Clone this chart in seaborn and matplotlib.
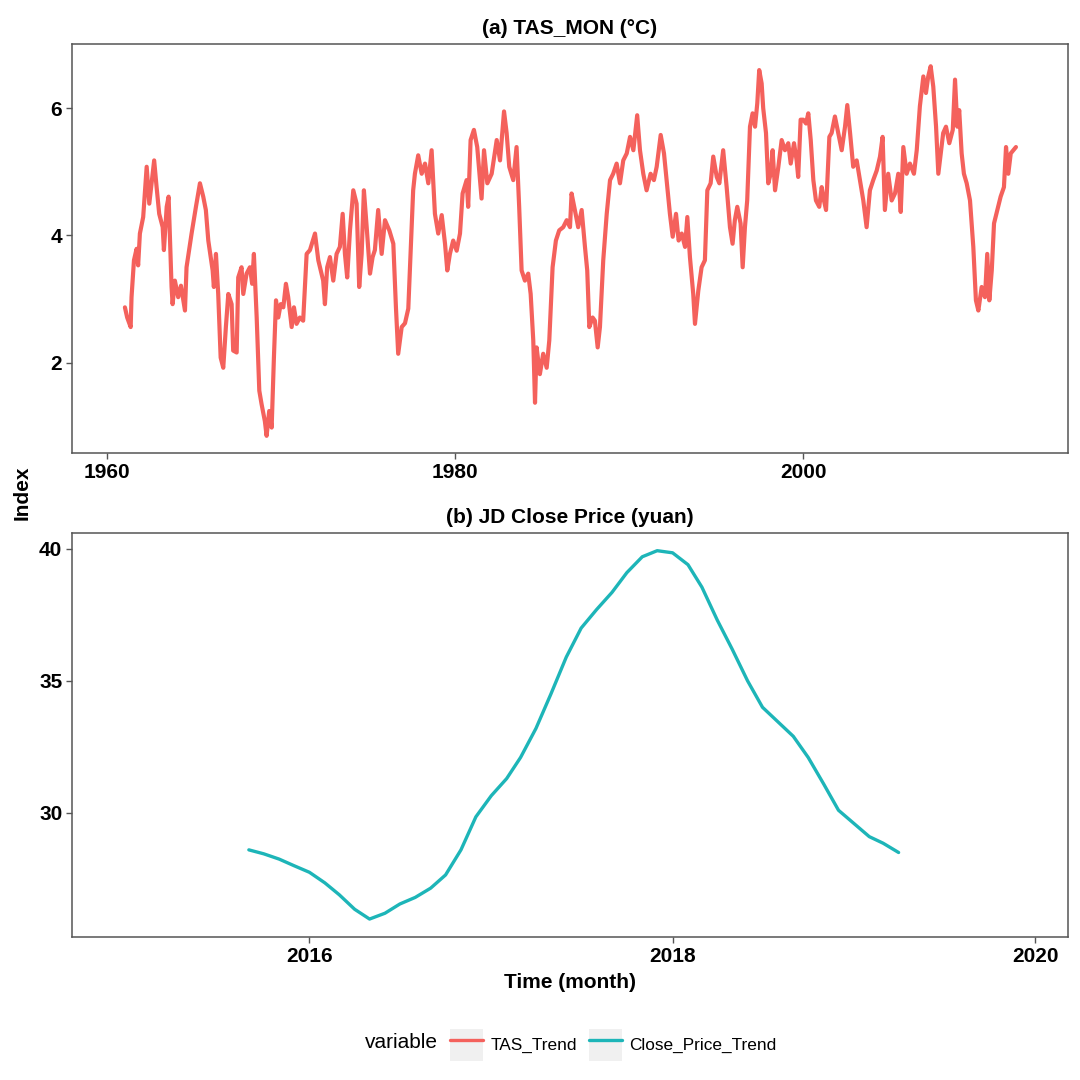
import numpy as np
import pandas as pd
import matplotlib
matplotlib.use('Agg')
import matplotlib.pyplot as plt
import matplotlib.dates as mdates
from matplotlib.lines import Line2D
from matplotlib.patches import Rectangle
from matplotlib.legend_handler import HandlerLine2D
import seaborn as sns

# ---- data ----
# (a) TAS trend, decimal year vs value (degC)
tas_year = [
    1961.04, 1961.17, 1961.37, 1961.42, 1961.56, 1961.71, 1961.80, 1961.90, 1962.09, 1962.29,
    1962.44, 1962.57, 1962.72, 1962.86, 1963.01, 1963.21, 1963.28, 1963.44, 1963.55, 1963.72,
    1963.78, 1963.91, 1964.10, 1964.26, 1964.49, 1964.58, 1964.87, 1965.12, 1965.35, 1965.54,
    1965.69, 1965.83, 1966.08, 1966.15, 1966.27, 1966.40, 1966.54, 1966.69, 1966.84, 1966.98,
    1967.17, 1967.26, 1967.46, 1967.55, 1967.74, 1967.84, 1968.03, 1968.22, 1968.35, 1968.45,
    1968.61, 1968.76, 1968.89, 1969.08, 1969.18, 1969.33, 1969.47, 1969.60, 1969.72, 1969.85,
    1969.99, 1970.14, 1970.29, 1970.42, 1970.62, 1970.75, 1970.90, 1971.09, 1971.28, 1971.48,
    1971.67, 1971.96, 1972.15, 1972.43, 1972.53, 1972.66, 1972.82, 1973.01, 1973.20, 1973.39,
    1973.55, 1973.68, 1973.81, 1973.97, 1974.16, 1974.35, 1974.50, 1974.64, 1974.77, 1974.93,
    1975.12, 1975.27, 1975.40, 1975.59, 1975.79, 1975.98, 1976.23, 1976.46, 1976.61, 1976.74,
    1976.94, 1977.13, 1977.32,
    1977.60, 1977.70, 1977.89, 1978.09, 1978.28, 1978.47, 1978.66, 1978.85, 1979.04, 1979.24,
    1979.43, 1979.56, 1979.71, 1979.90, 1980.10, 1980.29, 1980.44, 1980.67, 1980.76, 1980.90,
    1981.09, 1981.28, 1981.53, 1981.67, 1981.86, 1982.11, 1982.40, 1982.59, 1982.82, 1982.97,
    1983.12, 1983.35, 1983.54, 1983.69, 1983.83, 1984.02, 1984.21, 1984.35, 1984.50, 1984.60,
    1984.69, 1984.88, 1985.07, 1985.27, 1985.42, 1985.61, 1985.80, 1985.99, 1986.22, 1986.42,
    1986.61, 1986.70, 1986.89, 1987.08, 1987.28, 1987.47, 1987.60, 1987.72, 1987.91, 1988.04,
    1988.20, 1988.33, 1988.52, 1988.72, 1988.91, 1989.09, 1989.29, 1989.48, 1989.67, 1989.87,
    1990.06, 1990.25, 1990.47, 1990.63, 1990.82, 1991.01, 1991.24, 1991.43, 1991.59, 1991.82,
    1992.01, 1992.16, 1992.35, 1992.51, 1992.70, 1992.85, 1993.03, 1993.22, 1993.35, 1993.50,
    1993.69, 1993.79, 1993.98, 1994.17, 1994.36, 1994.50, 1994.69, 1994.84, 1995.04, 1995.19,
    1995.41, 1995.61, 1995.80, 1995.95, 1996.08, 1996.22, 1996.41, 1996.53, 1996.66, 1996.79,
    1996.95, 1997.10, 1997.24, 1997.37, 1997.48, 1997.62, 1997.71, 1997.87, 1998.00, 1998.14,
    1998.25, 1998.39, 1998.58, 1998.77, 1998.96, 1999.15, 1999.29, 1999.48, 1999.63, 1999.72,
    1999.86, 2000.01, 2000.17, 2000.30, 2000.44, 2000.59, 2000.74, 2000.93, 2001.07, 2001.20,
    2001.32, 2001.51, 2001.64, 2001.83, 2002.02, 2002.22, 2002.41, 2002.54, 2002.70, 2002.88,
    2003.08, 2003.27, 2003.46, 2003.65, 2003.84, 2004.03, 2004.23, 2004.42, 2004.57, 2004.70,
    2004.89, 2005.09, 2005.28, 2005.47, 2005.61, 2005.76, 2005.95, 2006.14, 2006.37, 2006.53,
    2006.71, 2006.91, 2007.06, 2007.19, 2007.33, 2007.48, 2007.64, 2007.77, 2007.91, 2008.05,
    2008.21, 2008.40, 2008.60, 2008.73, 2008.86, 2008.97, 2009.11, 2009.24, 2009.40, 2009.59,
    2009.78, 2009.93, 2010.07, 2010.26, 2010.45, 2010.58, 2010.70, 2010.84, 2010.97, 2011.16,
    2011.35, 2011.54, 2011.66, 2011.79, 2011.93, 2012.08, 2012.23,
]
tas_value = [
    2.87, 2.71, 2.56, 3.03, 3.61, 3.79, 3.53, 4.03, 4.29, 5.08,
    4.50, 4.82, 5.18, 4.76, 4.34, 4.13, 3.77, 4.45, 4.61, 3.19,
    2.92, 3.29, 3.03, 3.21, 2.82, 3.50, 4.03, 4.45, 4.82, 4.61,
    4.40, 3.92, 3.45, 3.19, 3.71, 3.08, 2.08, 1.92, 2.56, 3.08,
    2.92, 2.19, 2.16, 3.34, 3.50, 3.08, 3.40, 3.50, 3.24, 3.71,
    2.71, 1.56, 1.35, 1.08, 0.85, 1.24, 0.98, 2.08, 2.98, 2.71,
    2.92, 2.87, 3.24, 3.03, 2.56, 2.87, 2.61, 2.71, 2.66, 3.71,
    3.77, 4.03, 3.61, 3.29, 2.92, 3.50, 3.66, 3.29, 3.71, 3.82,
    4.34, 3.71, 3.34, 4.08, 4.71, 4.50, 3.19, 3.71, 4.71, 4.13,
    3.40, 3.66, 3.77, 4.40, 3.71, 4.24, 4.08, 3.87, 2.87, 2.14,
    2.56, 2.62, 2.85,
    4.71, 4.97, 5.26, 4.97, 5.13, 4.82, 5.34, 4.34, 4.03, 4.32,
    3.87, 3.45, 3.71, 3.92, 3.76, 4.03, 4.66, 4.87, 4.45, 5.50,
    5.66, 5.39, 4.58, 5.34, 4.82, 4.97, 5.50, 5.18, 5.95, 5.61,
    5.08, 4.87, 5.39, 4.45, 3.45, 3.29, 3.40, 3.08, 2.35, 1.37,
    2.24, 1.82, 2.14, 1.92, 2.35, 3.50, 3.92, 4.08, 4.13, 4.24,
    4.13, 4.66, 4.40, 4.13, 4.40, 3.82, 3.45, 2.56, 2.71, 2.66,
    2.24, 2.56, 3.61, 4.34, 4.87, 4.97, 5.13, 4.82, 5.18, 5.29,
    5.55, 5.34, 5.89, 5.34, 4.97, 4.71, 4.97, 4.87, 5.08, 5.58,
    5.29, 4.87, 4.34, 3.98, 4.34, 3.92, 4.03, 3.82, 4.29, 3.66,
    3.08, 2.61, 3.13, 3.50, 3.61, 4.71, 4.82, 5.24, 4.92, 4.82,
    5.34, 4.76, 4.13, 3.87, 4.24, 4.45, 4.19, 3.50, 4.13, 4.55,
    5.71, 5.92, 5.71, 6.08, 6.60, 6.39, 6.00, 5.61, 4.82, 4.97,
    5.34, 4.71, 5.08, 5.50, 5.34, 5.45, 5.13, 5.45, 5.18, 4.92,
    5.82, 5.82, 5.76, 5.92, 5.50, 4.87, 4.55, 4.45, 4.76, 4.55,
    4.40, 5.55, 5.61, 5.87, 5.61, 5.34, 5.71, 6.05, 5.61, 5.08,
    5.18, 4.87, 4.55, 4.13, 4.71, 4.87, 5.02, 5.24, 5.55, 4.40,
    4.97, 4.55, 4.66, 4.97, 4.37, 5.39, 4.97, 5.13, 4.97, 5.34,
    6.03, 6.50, 6.24, 6.50, 6.66, 6.34, 5.71, 4.97, 5.29, 5.61,
    5.71, 5.45, 5.66, 6.45, 5.71, 5.97, 5.29, 4.97, 4.82, 4.55,
    3.82, 2.98, 2.82, 3.19, 3.03, 3.71, 2.98, 3.45, 4.19, 4.40,
    4.61, 4.76, 5.39, 4.97, 5.29, 5.34, 5.39,
]

# (b) JD close price trend, monthly (yuan)
jd_month = pd.date_range("2015-09-01", "2019-04-01", freq="MS")
jd_close = [
    28.6, 28.45, 28.25, 28.0, 27.75, 27.35, 26.9, 26.35, 25.98, 26.2,
    26.55, 26.8, 27.15, 27.65, 28.6, 29.85, 30.65, 31.3, 32.1, 33.2,
    34.5, 35.9, 37.0, 37.7, 38.35, 39.1, 39.7, 39.93, 39.85, 39.4,
    38.55, 37.3, 36.2, 35.0, 34.0, 33.45, 32.9, 32.1, 31.1, 30.1,
    29.6, 29.1, 28.85, 28.5,
]

series_names = ["TAS_Trend", "Close_Price_Trend"]
series_colors = ["#F4615C", "#1DB5B8"]

# ---- style ----
sns.set_style("white")
plt.rcParams['font.family'] = ['Liberation Sans', 'DejaVu Sans']
plt.rcParams['text.color'] = 'black'
plt.rcParams['axes.labelcolor'] = 'black'

W = H = 1080
fig = plt.figure(figsize=(10.8, 10.8), dpi=100)

def box(l, t, r, b):
    return [l / W, 1 - b / H, (r - l) / W, (b - t) / H]

ax1 = fig.add_axes(box(72, 44, 1068, 453))
ax2 = fig.add_axes(box(72, 533, 1068, 937))

sns.lineplot(x=tas_year, y=tas_value, ax=ax1, color=series_colors[0],
             linewidth=3.0, estimator=None, solid_joinstyle='round')
sns.lineplot(x=jd_month, y=jd_close, ax=ax2, color=series_colors[1],
             linewidth=2.4, estimator=None, solid_joinstyle='round')

ax1.set_xlim(1958.0, 2015.22)
ax1.set_ylim(0.58, 7.01)
ax1.set_xticks([1960, 1980, 2000])
ax1.set_yticks([2, 4, 6])

ax2.set_xlim(pd.Timestamp("2014-09-10"), pd.Timestamp("2020-03-07"))
ax2.set_ylim(25.3, 40.6)
ax2.xaxis.set_major_locator(mdates.YearLocator(2))
ax2.xaxis.set_major_formatter(mdates.DateFormatter("%Y"))
ax2.set_yticks([30, 35, 40])

for ax in (ax1, ax2):
    ax.set_xlabel("")
    ax.set_ylabel("")
    for s in ax.spines.values():
        s.set_color("#555555")
        s.set_linewidth(1.1)
    ax.tick_params(axis='both', which='major', length=4, width=1, color="#555555",
                   labelsize=15, labelcolor="black", pad=3, direction='out',
                   bottom=True, left=True)
    for lab in ax.get_xticklabels() + ax.get_yticklabels():
        lab.set_fontweight('bold')

ax1.set_title("(a) TAS_MON (°C)", fontsize=15, fontweight='bold', pad=7, color='black')
ax2.set_title("(b) JD Close Price (yuan)", fontsize=15, fontweight='bold', pad=7,
              color='black')

fig.text(22 / W, 1 - 493 / H, "Index", rotation=90, fontsize=15, fontweight='bold',
         ha='center', va='center')
fig.text(570 / W, 1 - 983 / H, "Time (month)", fontsize=15, fontweight='bold',
         ha='center', va='center')


# legend keys drawn on a light grey square, like ggplot
class KeyHandler(HandlerLine2D):
    def create_artists(self, legend, orig_handle, xdescent, ydescent, width, height,
                       fontsize, trans):
        bg = Rectangle((-xdescent, -ydescent), width, height, facecolor="#F0F0F0",
                       edgecolor='none', transform=trans)
        arts = super().create_artists(legend, orig_handle, xdescent, ydescent, width,
                                      height, fontsize, trans)
        return [bg] + list(arts)


handles = [Line2D([], [], color=c, linewidth=2.4) for c in series_colors]
fig.text(365 / W, 1 - 1043 / H, "variable", fontsize=15, ha='left', va='center')
fig.legend(handles, series_names, ncol=2, loc='center left',
           bbox_to_anchor=(450 / W, 1 - 1045 / H), frameon=False, fontsize=12.4,
           handlelength=1.9, handleheight=2.5, handletextpad=0.45, columnspacing=0.7,
           borderaxespad=0, borderpad=0,
           handler_map={Line2D: KeyHandler(marker_pad=0.12)})

fig.savefig("out.png", dpi=100)
